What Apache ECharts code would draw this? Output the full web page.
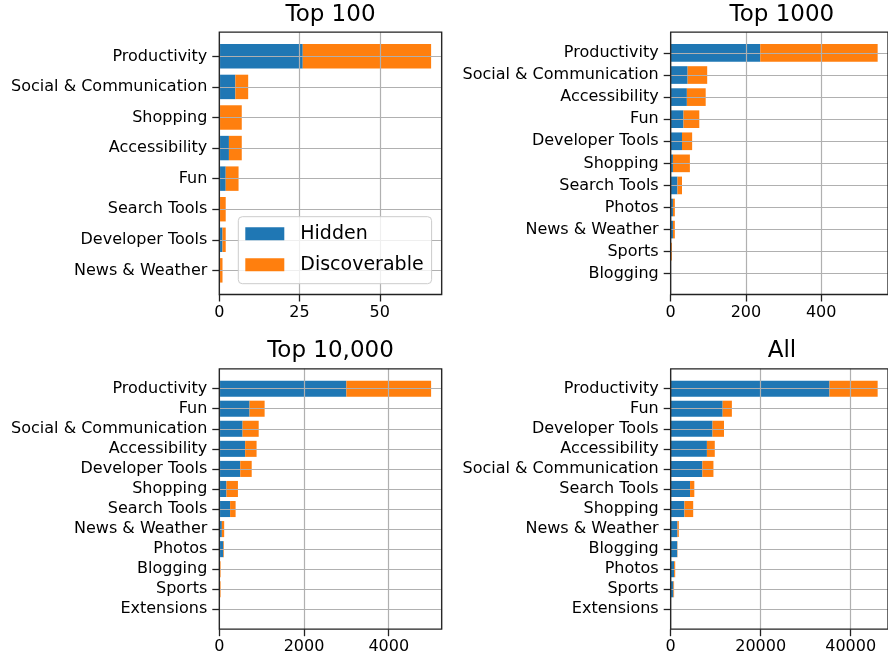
<!DOCTYPE html>
<html>
<head>
<meta charset="utf-8">
<script src="https://cdn.jsdelivr.net/npm/echarts@6/dist/echarts.min.js"></script>
<style>html,body{margin:0;padding:0;background:#fff;}#c{width:888px;height:660px;}</style>
</head>
<body>
<div id="c"></div>
<script>
// ---- data ----
const titles = ['Top 100', 'Top 1000', 'Top 10,000', 'All'];

const catsTop100 = ['Productivity', 'Social & Communication', 'Shopping', 'Accessibility', 'Fun', 'Search Tools', 'Developer Tools', 'News & Weather'];
const hiddenTop100 = [26, 5, 0, 3, 2, 0, 1, 0];
const discTop100 = [40, 4, 7, 4, 4, 2, 1, 1];

const catsTop1000 = ['Productivity', 'Social & Communication', 'Accessibility', 'Fun', 'Developer Tools', 'Shopping', 'Search Tools', 'Photos', 'News & Weather', 'Sports', 'Blogging'];
const hiddenTop1000 = [238, 45, 43, 34, 30, 6, 18, 6, 6, 0, 0];
const discTop1000 = [312, 52, 50, 42, 27, 45, 12, 5, 5, 3, 0];

const catsTop10000 = ['Productivity', 'Fun', 'Social & Communication', 'Accessibility', 'Developer Tools', 'Shopping', 'Search Tools', 'News & Weather', 'Photos', 'Blogging', 'Sports', 'Extensions'];
const hiddenTop10000 = [3000, 715, 550, 610, 495, 170, 255, 60, 95, 5, 5, 0];
const discTop10000 = [2000, 355, 380, 270, 270, 270, 130, 55, 15, 25, 25, 0];

const catsAll = ['Productivity', 'Fun', 'Developer Tools', 'Accessibility', 'Social & Communication', 'Search Tools', 'Shopping', 'News & Weather', 'Blogging', 'Photos', 'Sports', 'Extensions'];
const hiddenAll = [35300, 11550, 9300, 8050, 7050, 4300, 3050, 1500, 1450, 750, 600, 0];
const discAll = [10700, 2050, 2550, 1750, 2450, 950, 1950, 300, 60, 250, 150, 0];

const tickIntervals = [25, 200, 2000, 20000];
const seriesNames = ['Hidden', 'Discoverable'];
const colors = ['#1f77b4', '#ff7f0e'];

// ---- layout ----
const FONT = 'DejaVu Sans';
const frames = [
  [219.3, 32.2, 222.4, 262.3],
  [670.7, 32.2, 222.4, 262.3],
  [219.3, 368.8, 222.4, 260.4],
  [670.7, 368.8, 222.4, 260.4]
];
const titleTops = [4, 4, 340, 340];

const panels = [
  {cats: catsTop100, hidden: hiddenTop100, disc: discTop100},
  {cats: catsTop1000, hidden: hiddenTop1000, disc: discTop1000},
  {cats: catsTop10000, hidden: hiddenTop10000, disc: discTop10000},
  {cats: catsAll, hidden: hiddenAll, disc: discAll}
];

const grid = [], xAxis = [], yAxis = [], series = [], title = [];
const tickStyle = {color: '#222', width: 1.3};
const gridLineStyle = {color: '#b0b0b0', width: 1.2};

panels.forEach((p, i) => {
  const [L, T, Wd, H] = frames[i];
  const n = p.cats.length;
  const u = H / ((n - 0.2) * 1.1);
  const off = (0.4 + 0.05 * (n - 0.2)) * u;
  const maxTotal = Math.max(...p.hidden.map((h, j) => h + p.disc[j]));
  const xmax = maxTotal * 1.05;

  title.push({
    text: titles[i], left: L + Wd / 2, top: titleTops[i], textAlign: 'center', padding: 0,
    textStyle: {fontSize: 23, fontWeight: 'normal', color: '#000', fontFamily: FONT}
  });

  grid.push({left: L, top: T, width: Wd, height: H, show: true, borderColor: '#222', borderWidth: 1.3, backgroundColor: 'transparent', z: 5});
  grid.push({left: L, top: T + off, width: Wd, height: H - 2 * off});

  xAxis.push({
    gridIndex: 2 * i, type: 'value', min: 0, max: xmax, interval: tickIntervals[i], z: 3,
    axisLine: {show: false},
    axisTick: {show: true, length: 7, lineStyle: tickStyle},
    axisLabel: {fontSize: 16, color: '#000', margin: 10, showMaxLabel: false, fontFamily: FONT,
                formatter: v => String(v)},
    splitLine: {show: true, lineStyle: gridLineStyle}
  });
  yAxis.push({gridIndex: 2 * i, type: 'value', show: false});

  xAxis.push({gridIndex: 2 * i + 1, type: 'value', min: 0, max: xmax, show: false});
  yAxis.push({
    gridIndex: 2 * i + 1, type: 'category', data: p.cats, inverse: true, boundaryGap: false, z: 3,
    axisLine: {show: false},
    axisTick: {show: true, length: 7, lineStyle: tickStyle},
    axisLabel: {fontSize: 16, color: '#000', margin: 12, fontFamily: FONT, interval: 0, padding: [3, 0, 0, 0]},
    splitLine: {show: true, lineStyle: gridLineStyle}
  });

  [p.hidden, p.disc].forEach((vals, k) => {
    series.push({
      name: seriesNames[k], type: 'bar', stack: 'panel' + i,
      xAxisIndex: 2 * i + 1, yAxisIndex: 2 * i + 1,
      barWidth: '80%', data: vals,
      itemStyle: {color: colors[k]}
    });
  });
});

const chart = echarts.init(document.getElementById('c'), null, {renderer: 'canvas'});
chart.setOption({
  animation: false,
  backgroundColor: '#fff',
  title: title,
  legend: {
    data: seriesNames, left: 238.3, top: 216.7, orient: 'vertical',
    itemWidth: 39, itemHeight: 13, itemGap: 9, icon: 'rect',
    padding: [6, 8, 8, 7],
    backgroundColor: 'rgba(255,255,255,0.8)', borderColor: '#cccccc', borderWidth: 1, borderRadius: 4,
    textStyle: {fontSize: 19, color: '#000', fontFamily: FONT, padding: [0, 0, 0, 11], lineHeight: 22},
    z: 6
  },
  grid: grid, xAxis: xAxis, yAxis: yAxis, series: series
});
</script>
</body>
</html>
